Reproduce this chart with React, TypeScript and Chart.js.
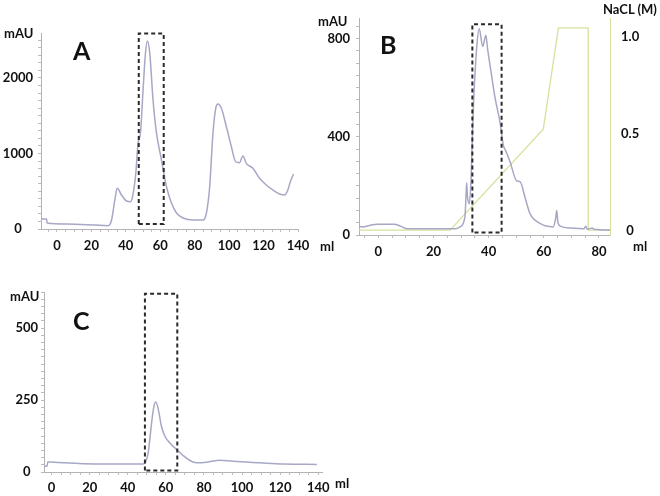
import React, { useEffect, useRef } from 'react';
import { Chart, registerables } from 'chart.js';

Chart.register(...registerables);

// ---------- text ----------
const panelLetters = ['A', 'B', 'C'];
const absUnit = 'mAU';
const volUnit = 'ml';
const saltTitle = 'NaCL (M)';

// ---------- panel A : gel filtration ----------
const aVolume = [-9.2, -6, -5.8, 5.6, 29.8, 31.7, 33.6, 35, 37.5, 40.4, 42.7, 43.9, 45.8, 47.1, 48.5, 50, 51.4, 52.6, 53.9, 55.8, 57.8, 60.7, 63.6, 66.5, 69.4, 73.2, 79, 84.8, 86.8, 88.7, 90.6, 92.2, 93.5, 95.5, 98.4, 101.3, 103.8, 106, 108, 110, 113.8, 117.7, 121.6, 125.4, 129.3, 132.2, 134.1, 135.5, 137.4];
const aAbs = [132, 132, 79, 66, 44, 119, 384, 539, 450, 371, 362, 428, 742, 1139, 1272, 1841, 2331, 2490, 2327, 1709, 1272, 914, 560, 344, 212, 146, 119, 119, 212, 560, 1268, 1599, 1656, 1599, 1355, 1090, 891, 878, 967, 870, 804, 672, 583, 517, 464, 450, 517, 623, 728];
const aBoxVol = [47.5, 47.5, 62, 62, 47.5];
const aBoxAbs = [66, 2590, 2590, 66, 66];
const aXLabels = [0, 20, 40, 60, 80, 100, 120, 140];
const aYLabels = [0, 1000, 2000];

// ---------- panel B : ion exchange ----------
const bVolume = [-7, -5.8, -2.8, -0.4, 5.7, 8.1, 10.5, 26.2, 28, 29.6, 31.4, 31.8, 32.05, 32.3, 33, 33.6, 34.4, 35.7, 36.6, 37.85, 39, 39.6, 40.75, 42.3, 44.1, 45.3, 46.3, 47.7, 50.2, 51.4, 53.2, 55, 58.6, 63.4, 64.3, 64.7, 65.1, 66, 70, 74.6, 75.2, 75.8, 77.6, 78.2, 84];
const bAbs = [36, 33, 40, 44, 44, 36, 25, 25, 25, 33, 73, 160, 213, 160, 127, 220, 500, 767, 840, 767, 813, 760, 673, 560, 460, 367, 340, 300, 220, 217, 153, 87, 47, 33, 68, 100, 52, 36, 28, 25, 36, 23, 29, 23, 20];
const bSaltVol = [-7, 26, 59.8, 65.3, 76.1, 76.1, 84];
const bSalt = [0.005, 0.005, 0.523, 1.043, 1.043, 0.005, 0.005];
const bBoxVol = [34.1, 34.1, 44.7, 44.7, 34.1];
const bBoxAbs = [10, 858, 858, 10, 10];
const bXLabels = [0, 20, 40, 60, 80];
const bYLabels = [0, 400, 800];
const bSaltLabels = [0, 0.5, 1.0];

// ---------- panel C : second gel filtration ----------
const cVolume = [-4, -2.4, -2.0, 1.2, 16.5, 48.1, 49.3, 50.7, 52.5, 53.7, 54.7, 55.9, 57.7, 59.5, 62.1, 65.6, 69.1, 72.6, 76.1, 81.4, 88.4, 95.4, 109.5, 121.8, 139.3];
const cAbs = [20, 20, 35, 34, 29, 28, 34, 66, 170, 227, 243, 222, 158, 124, 101, 78, 57, 40, 32, 34, 41, 37, 32, 28, 26];
const cBoxVol = [49, 49, 66, 66, 49];
const cBoxAbs = [5, 619, 619, 5, 5];
const cXLabels = [0, 20, 40, 60, 80, 100, 120, 140];
const cYLabels = [0, 250, 500];

// ---------- styles ----------
const TRACE = '#a7a7c6';
const SALT = '#d3e29c';
const AXIS = '#b3b3b3';
const TICKMARK = '#bdbdbd';
const BOX = '#2a2a2a';
const FONT = 'Lato, "Open Sans", sans-serif';

const pts = (xs: number[], ys: number[]) => xs.map((x, i) => ({ x, y: ys[i] }));

function stepTicks(min: number, max: number, step: number) {
  const out: { value: number }[] = [];
  for (let v = Math.ceil(min / step) * step; v <= max + 1e-9; v += step) {
    out.push({ value: Math.round(v * 1000) / 1000 });
  }
  return out;
}

function fmt(v: number) {
  if (v === 0) return '0';
  return Number.isInteger(v) && v > 1 ? String(v) : v.toFixed(1);
}

function linearAxis(o: {
  position: 'left' | 'right' | 'bottom';
  min: number; max: number; minor: number; majors: number[];
  size: number; pad: number; tickLen: number; borderColor: string;
  crossAlign?: 'near' | 'center' | 'far'; drawTicks?: boolean;
}) {
  const isY = o.position !== 'bottom';
  return {
    type: 'linear',
    position: o.position,
    min: o.min,
    max: o.max,
    border: { display: true, color: o.borderColor, width: 1 },
    grid: {
      display: true,
      drawOnChartArea: false,
      drawTicks: o.drawTicks !== false,
      tickLength: o.tickLen,
      color: TICKMARK,
      lineWidth: 1,
    },
    ticks: {
      autoSkip: false,
      maxRotation: 0,
      minRotation: 0,
      padding: o.pad,
      crossAlign: o.crossAlign || 'near',
      color: '#111',
      font: { family: FONT, size: 13, weight: 'bold' },
      callback: (v: number) => (o.majors.some((m) => Math.abs(m - v) < 1e-6) ? fmt(v) : ''),
    },
    afterBuildTicks: (scale: any) => {
      scale.ticks = stepTicks(o.min, o.max, o.minor);
    },
    afterFit: (scale: any) => {
      if (isY) scale.width = o.size;
      else scale.height = o.size;
    },
  };
}

function traceSet(data: any[], color: string, axisId: string, order: number, width = 1.5, smooth = true) {
  return {
    data,
    yAxisID: axisId,
    borderColor: color,
    borderWidth: width,
    pointRadius: 0,
    tension: smooth ? 0.4 : 0,
    cubicInterpolationMode: smooth ? 'monotone' : 'default',
    fill: false,
    order,
  };
}

function boxSet(data: any[]) {
  return {
    data,
    yAxisID: 'y',
    borderColor: BOX,
    borderWidth: 2,
    borderDash: [4, 3],
    pointRadius: 0,
    tension: 0,
    fill: false,
    clip: false,
    order: 0,
  };
}

const common = {
  responsive: false,
  animation: false,
  events: [],
  plugins: { legend: { display: false }, tooltip: { enabled: false }, title: { display: false } },
};

function configA(): any {
  return {
    type: 'line',
    data: {
      datasets: [
        boxSet(pts(aBoxVol, aBoxAbs)),
        traceSet(pts(aVolume, aAbs), TRACE, 'y', 1),
      ],
    },
    options: {
      ...common,
      layout: { padding: { left: 0, top: 33, right: 362, bottom: 234 } },
      scales: {
        x: linearAxis({ position: 'bottom', min: -9.28, max: 140, minor: 5, majors: aXLabels, size: 33, pad: 6, tickLen: 3, borderColor: AXIS }),
        y: linearAxis({ position: 'left', min: 0, max: 2596, minor: 100, majors: aYLabels, size: 41, pad: 5, tickLen: 3, borderColor: AXIS, crossAlign: 'center' }),
      },
    },
  };
}

function configB(): any {
  return {
    type: 'line',
    data: {
      datasets: [
        boxSet(pts(bBoxVol, bBoxAbs)),
        traceSet(pts(bVolume, bAbs), TRACE, 'y', 1),
        traceSet(pts(bSaltVol, bSalt), SALT, 'y2', 2, 1.3, false),
      ],
    },
    options: {
      ...common,
      layout: { padding: { left: 315, top: 15, right: 0, bottom: 234 } },
      scales: {
        x: linearAxis({ position: 'bottom', min: -7, max: 84, minor: 5, majors: bXLabels, size: 27, pad: 6, tickLen: 3, borderColor: AXIS }),
        y: linearAxis({ position: 'left', min: 0, max: 880, minor: 50, majors: bYLabels, size: 44, pad: 6, tickLen: 3, borderColor: AXIS }),
        y2: linearAxis({ position: 'right', min: -0.02, max: 1.09, minor: 0.5, majors: bSaltLabels, size: 50, pad: 11, tickLen: 3, borderColor: SALT, crossAlign: 'center', drawTicks: false }),
      },
    },
  };
}

function configC(): any {
  return {
    type: 'line',
    data: {
      datasets: [
        boxSet(pts(cBoxVol, cBoxAbs)),
        traceSet(pts(cVolume, cAbs), TRACE, 'y', 1),
      ],
    },
    options: {
      ...common,
      layout: { padding: { left: 0, top: 292, right: 338, bottom: 0 } },
      scales: {
        x: linearAxis({ position: 'bottom', min: -4, max: 142, minor: 5, majors: cXLabels, size: 24, pad: 5, tickLen: 3, borderColor: AXIS }),
        y: linearAxis({ position: 'left', min: 0, max: 625, minor: 25, majors: cYLabels, size: 44, pad: 3, tickLen: 3, borderColor: AXIS, crossAlign: 'center' }),
      },
    },
  };
}

const textBase: React.CSSProperties = {
  position: 'absolute',
  fontFamily: FONT,
  fontWeight: 700,
  color: '#111',
  lineHeight: 1,
  whiteSpace: 'nowrap',
};

export default function App() {
  const refA = useRef<HTMLCanvasElement>(null);
  const refB = useRef<HTMLCanvasElement>(null);
  const refC = useRef<HTMLCanvasElement>(null);

  useEffect(() => {
    const charts = [
      new Chart(refA.current as HTMLCanvasElement, configA()),
      new Chart(refB.current as HTMLCanvasElement, configB()),
      new Chart(refC.current as HTMLCanvasElement, configC()),
    ];
    return () => charts.forEach((c) => c.destroy());
  }, []);

  const canvasStyle: React.CSSProperties = { position: 'absolute', left: 0, top: 0, width: 660, height: 496 };

  return (
    <div style={{ position: 'absolute', left: 0, top: 0, width: 660, height: 496, background: '#fff', overflow: 'hidden' }}>
      <canvas ref={refA} width={660} height={496} style={canvasStyle} />
      <canvas ref={refB} width={660} height={496} style={canvasStyle} />
      <canvas ref={refC} width={660} height={496} style={canvasStyle} />

      <div style={{ ...textBase, left: 4, top: 27, fontSize: 13 }}>{absUnit}</div>
      <div style={{ ...textBase, left: 73, top: 38, fontSize: 25 }}>{panelLetters[0]}</div>
      <div style={{ ...textBase, left: 320, top: 240, fontSize: 13 }}>{volUnit}</div>

      <div style={{ ...textBase, left: 318, top: 15, fontSize: 13 }}>{absUnit}</div>
      <div style={{ ...textBase, left: 380, top: 32, fontSize: 25 }}>{panelLetters[1]}</div>
      <div style={{ ...textBase, left: 603, top: 3, fontSize: 13 }}>{saltTitle}</div>
      <div style={{ ...textBase, left: 633, top: 240, fontSize: 13 }}>{volUnit}</div>

      <div style={{ ...textBase, left: 10, top: 290, fontSize: 13 }}>{absUnit}</div>
      <div style={{ ...textBase, left: 73, top: 308, fontSize: 25 }}>{panelLetters[2]}</div>
      <div style={{ ...textBase, left: 335, top: 477, fontSize: 13 }}>{volUnit}</div>
    </div>
  );
}
